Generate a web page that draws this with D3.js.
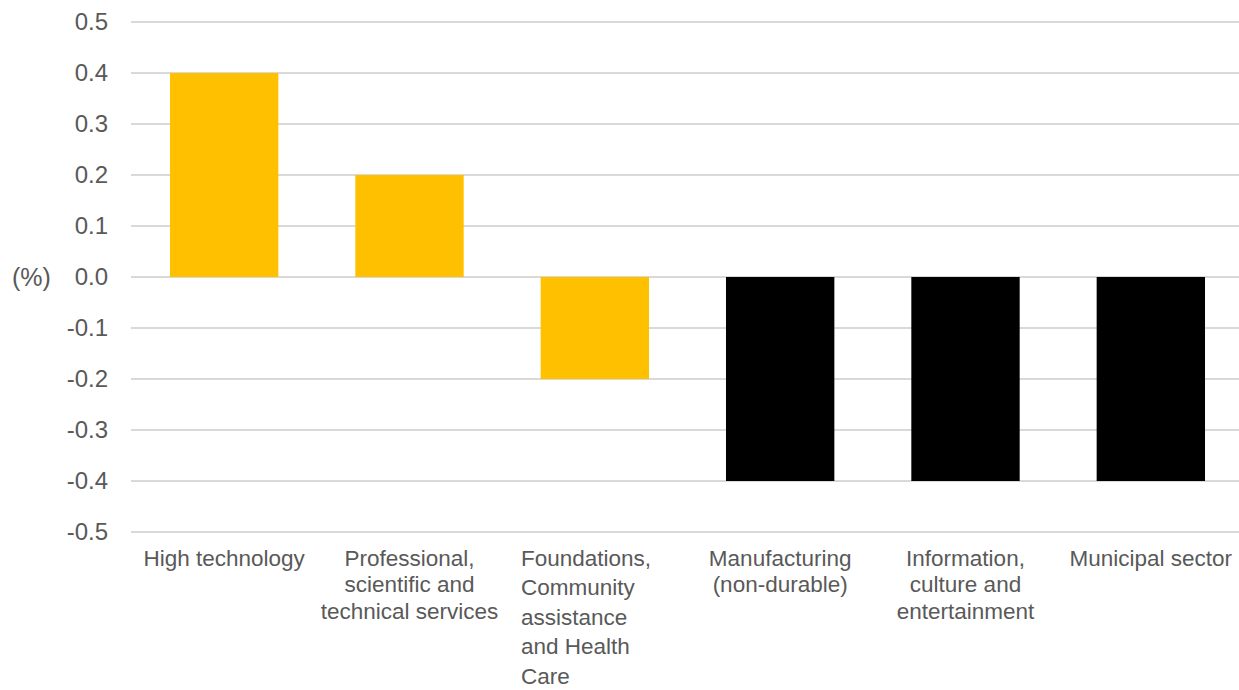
<!DOCTYPE html>
<html>
<head>
<meta charset="utf-8">
<script src="https://cdn.jsdelivr.net/npm/d3@7"></script>
<style>
  html, body { margin: 0; padding: 0; background: #fff; }
  svg { display: block; }
</style>
</head>
<body>
<svg id="chart" width="1239" height="690"></svg>
<script>
const categories = [
  "High technology",
  "Professional, scientific and technical services",
  "Foundations, Community assistance and Health Care",
  "Manufacturing (non-durable)",
  "Information, culture and entertainment",
  "Municipal sector"
];
const labelLines = [
  ["High technology"],
  ["Professional,", "scientific and", "technical services"],
  ["Foundations,", "Community", "assistance", "and Health", "Care"],
  ["Manufacturing", "(non-durable)"],
  ["Information,", "culture and", "entertainment"],
  ["Municipal sector"]
];
const values = [0.4, 0.2, -0.2, -0.4, -0.4, -0.4];
const barColors = ["#FFC000", "#FFC000", "#FFC000", "#000000", "#000000", "#000000"];
const yTicks = [0.5, 0.4, 0.3, 0.2, 0.1, 0.0, -0.1, -0.2, -0.3, -0.4, -0.5];
const yUnit = "(%)";

const svg = d3.select("#chart");
const font = "'Liberation Sans', Arial, sans-serif";
const textColor = "#595959";

const x = d3.scaleBand().domain(categories).range([131.3, 1243.7]).paddingInner(77 / 185.4).paddingOuter(38.7 / 185.4);
const y = d3.scaleLinear().domain([-0.5, 0.5]).range([532, 22]);

// gridlines
svg.append("g").selectAll("line").data(yTicks).join("line")
  .attr("x1", 131).attr("x2", 1239)
  .attr("y1", d => y(d)).attr("y2", d => y(d))
  .attr("stroke", "#d9d9d9").attr("stroke-width", 2);

// y axis labels
const yAxis = d3.axisLeft(y).tickValues(yTicks).tickFormat(d3.format(".1f")).tickSize(0).tickPadding(0);
const yg = svg.append("g").attr("transform", "translate(108,0)").call(yAxis);
yg.select(".domain").remove();
yg.selectAll("text").attr("font-family", font).attr("font-size", 24).attr("fill", textColor)
  .text(d => d3.format(".1f")(d).replace("−", "-"));

svg.append("text").attr("x", 12).attr("y", y(0)).attr("dy", "0.35em")
  .attr("font-family", font).attr("font-size", 25).attr("fill", textColor).text(yUnit);

// bars
svg.append("g").selectAll("rect").data(values).join("rect")
  .attr("x", (d, i) => x(categories[i]))
  .attr("width", x.bandwidth())
  .attr("y", d => y(Math.max(0, d)))
  .attr("height", d => Math.abs(y(d) - y(0)))
  .attr("fill", (d, i) => barColors[i]);

// category labels
labelLines.forEach((lines, i) => {
  const cx = x(categories[i]) + x.bandwidth() / 2;
  const leftAligned = lines.length > 3;
  const lh = leftAligned ? 29.6 : 26.7;
  const t = svg.append("text")
    .attr("font-family", font).attr("font-size", 22.5).attr("fill", textColor)
    .attr("text-anchor", leftAligned ? "start" : "middle");
  lines.forEach((ln, j) => {
    t.append("tspan").attr("x", leftAligned ? 521 : cx).attr("y", 565.5 + j * lh).text(ln);
  });
});
</script>
</body>
</html>
